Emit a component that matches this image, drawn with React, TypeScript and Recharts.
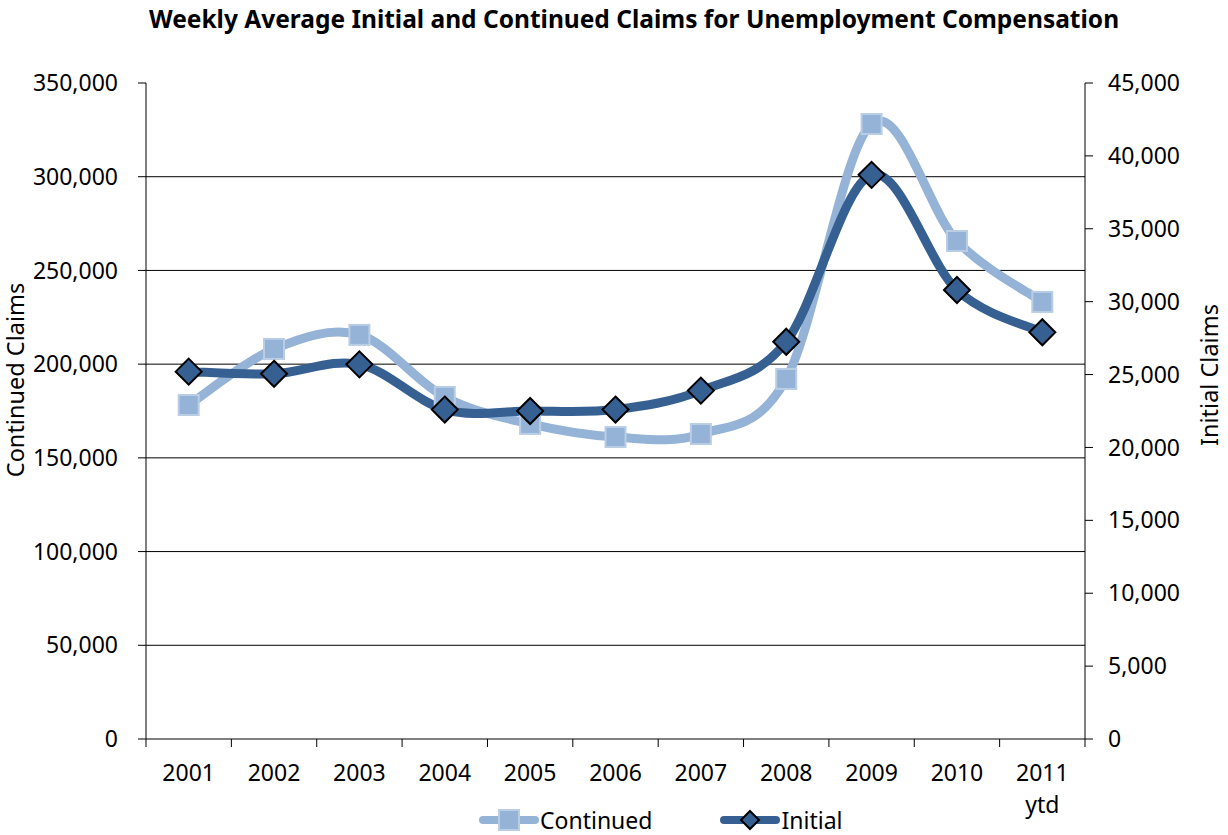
import React from "react";
import { LineChart, Line, XAxis, YAxis, ReferenceLine } from "recharts";

const FONT = "'Noto Sans', 'Open Sans', sans-serif";
const LIGHT = "#95b3d7";
const LIGHT_EDGE = "#b9cde5";
const DARK = "#376092";

const years = ["2001", "2002", "2003", "2004", "2005", "2006", "2007", "2008", "2009", "2010", "2011 ytd"];
const continued = [178200, 208100, 215600, 182500, 168100, 161100, 162700, 192100, 328100, 265700, 233200];
const initial = [25200, 25050, 25700, 22600, 22500, 22600, 23900, 27250, 38700, 30800, 27900];

const leftTicks = [0, 50000, 100000, 150000, 200000, 250000, 300000, 350000];
const rightTicks = [0, 5000, 10000, 15000, 20000, 25000, 30000, 35000, 40000, 45000];
const gridValues = [50000, 100000, 150000, 200000, 250000, 300000];

const W = 1228;
const H = 835;
const PLOT_W = 939;
const BAND = PLOT_W / years.length;
const FS = 23;

const data = years.map((year, i) => ({
  year,
  continued: continued[i],
  initial: initial[i],
}));

const fmt = (v: number) => v.toLocaleString("en-US");

// Excel-style smoothing (Catmull-Rom like bezier through every point)
function excelCurve(context: any) {
  let pts: [number, number][] = [];
  return {
    areaStart() {},
    areaEnd() {},
    lineStart() {
      pts = [];
    },
    lineEnd() {
      if (!pts.length) return;
      context.moveTo(pts[0][0], pts[0][1]);
      for (let i = 0; i < pts.length - 1; i++) {
        const p0 = pts[i - 1] ?? pts[i];
        const p1 = pts[i];
        const p2 = pts[i + 1];
        const p3 = pts[i + 2] ?? p2;
        context.bezierCurveTo(
          p1[0] + (p2[0] - p0[0]) / 6,
          p1[1] + (p2[1] - p0[1]) / 6,
          p2[0] - (p3[0] - p1[0]) / 6,
          p2[1] - (p3[1] - p1[1]) / 6,
          p2[0],
          p2[1]
        );
      }
    },
    point(x: number, y: number) {
      pts.push([+x, +y]);
    },
  };
}

function SquareDot({ cx, cy }: any) {
  if (cx == null || cy == null) return null;
  return <rect x={cx - 10} y={cy - 10} width={20} height={20} fill={LIGHT} stroke={LIGHT_EDGE} strokeWidth={2} />;
}

function DiamondDot({ cx, cy }: any) {
  if (cx == null || cy == null) return null;
  const r = 13;
  return (
    <path
      d={`M${cx},${cy - r}L${cx + r},${cy}L${cx},${cy + r}L${cx - r},${cy}Z`}
      fill={DARK}
      stroke="#000"
      strokeWidth={2}
    />
  );
}

function YearTick({ x, y, payload, index }: any) {
  const [main, sub] = String(payload.value).split(" ");
  const axisY = y - 8;
  const last = index === years.length - 1;
  return (
    <g>
      <line x1={x - BAND / 2} x2={x - BAND / 2} y1={axisY} y2={axisY + 8} stroke="#000" />
      {last && <line x1={x + BAND / 2} x2={x + BAND / 2} y1={axisY} y2={axisY + 8} stroke="#000" />}
      <text x={x} y={axisY + 42} textAnchor="middle" fontSize={FS} fill="#000" fontFamily={FONT}>
        {main}
      </text>
      {sub && (
        <text x={x} y={axisY + 74} textAnchor="middle" fontSize={FS} fill="#000" fontFamily={FONT}>
          {sub}
        </text>
      )}
    </g>
  );
}

function LegendItem({ label, color, kind }: { label: string; color: string; kind: "square" | "diamond" }) {
  return (
    <span style={{ display: "inline-flex", alignItems: "center" }}>
      <svg width={62} height={24}>
        <line x1={5} x2={57} y1={12} y2={12} stroke={color} strokeWidth={8} strokeLinecap="round" />
        {kind === "square" ? (
          <rect x={21} y={2} width={20} height={20} fill={LIGHT} stroke={LIGHT_EDGE} strokeWidth={2} />
        ) : (
          <path d="M31,3L40,12L31,21L22,12Z" fill={DARK} stroke="#000" strokeWidth={2} />
        )}
      </svg>
      <span style={{ fontSize: FS }}>{label}</span>
    </span>
  );
}

export default function App() {
  return (
    <div
      style={{
        position: "absolute",
        left: 0,
        top: 0,
        width: W,
        height: H,
        background: "#fff",
        fontFamily: FONT,
        color: "#000",
      }}
    >
      <div
        style={{
          position: "absolute",
          top: 2,
          left: 20,
          width: W,
          textAlign: "center",
          fontSize: 24.5,
          fontWeight: 700,
        }}
      >
        Weekly Average Initial and Continued Claims for Unemployment Compensation
      </div>
      <LineChart width={W} height={H} data={data} margin={{ top: 83, right: 33, bottom: 36, left: 36 }}>
        {gridValues.map((v) => (
          <ReferenceLine key={v} yAxisId="left" y={v} stroke="#000" strokeWidth={1} />
        ))}
        <XAxis
          dataKey="year"
          height={60}
          padding={{ left: BAND / 2, right: BAND / 2 }}
          axisLine={{ stroke: "#000" }}
          tickLine={false}
          tickSize={8}
          tickMargin={0}
          tick={<YearTick />}
          interval={0}
        />
        <YAxis
          yAxisId="left"
          width={110}
          domain={[0, 350000]}
          ticks={leftTicks}
          tickFormatter={fmt}
          axisLine={{ stroke: "#000" }}
          tickLine={{ stroke: "#000" }}
          tickSize={8}
          tickMargin={20}
          tick={{ fontSize: FS, fill: "#000", fontFamily: FONT }}
          label={{
            content: () => (
              <text
                x={24}
                y={380}
                transform="rotate(-90, 24, 380)"
                textAnchor="middle"
                fontSize={23.5}
                fill="#000"
                fontFamily={FONT}
              >
                Continued Claims
              </text>
            ),
          }}
        />
        <YAxis
          yAxisId="right"
          orientation="right"
          width={110}
          domain={[0, 45000]}
          ticks={rightTicks}
          tickFormatter={fmt}
          axisLine={{ stroke: "#000" }}
          tickLine={{ stroke: "#000" }}
          tickSize={8}
          tickMargin={15}
          tick={{ fontSize: FS, fill: "#000", fontFamily: FONT, textAnchor: "start" }}
          label={{
            content: () => (
              <text
                x={1218}
                y={375}
                transform="rotate(-90, 1218, 375)"
                textAnchor="middle"
                fontSize={23.5}
                fill="#000"
                fontFamily={FONT}
              >
                Initial Claims
              </text>
            ),
          }}
        />
        <Line
          yAxisId="left"
          dataKey="continued"
          type={excelCurve as any}
          stroke={LIGHT}
          strokeWidth={9}
          dot={<SquareDot />}
          activeDot={false}
          isAnimationActive={false}
        />
        <Line
          yAxisId="right"
          dataKey="initial"
          type={excelCurve as any}
          stroke={DARK}
          strokeWidth={9}
          dot={<DiamondDot />}
          activeDot={false}
          isAnimationActive={false}
        />
      </LineChart>
      <div
        style={{
          position: "absolute",
          top: 804,
          left: 478,
          display: "flex",
          gap: 67,
        }}
      >
        <LegendItem label="Continued" color={LIGHT} kind="square" />
        <LegendItem label="Initial" color={DARK} kind="diamond" />
      </div>
    </div>
  );
}
